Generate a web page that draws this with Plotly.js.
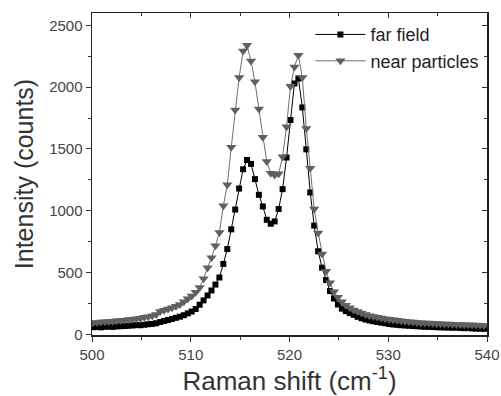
<!DOCTYPE html>
<html>
<head>
<meta charset="utf-8">
<script src="https://cdn.plot.ly/plotly-3.0.1.min.js"></script>
<style>html,body{margin:0;padding:0;background:#fff;}#chart{width:501px;height:396px;}</style>
</head>
<body>
<div id="chart"></div>
<script>
// Raman shift (cm^-1)
const ramanShift = [
  500.1, 500.5, 500.9, 501.3, 501.7, 502.1, 502.5, 502.9, 503.3, 503.7,
  504.1, 504.5, 504.9, 505.3, 505.7, 506.1, 506.5, 506.9, 507.3, 507.7,
  508.1, 508.5, 508.9, 509.3, 509.7, 510.1, 510.5, 510.9, 511.3, 511.7,
  512.1, 512.5, 512.9, 513.3, 513.7, 514.1, 514.5, 514.9, 515.3, 515.7,
  516.1, 516.5, 516.9, 517.3, 517.7, 518.1, 518.5, 518.9, 519.3, 519.7,
  520.1, 520.5, 520.9, 521.3, 521.7, 522.1, 522.5, 522.9, 523.3, 523.7,
  524.1, 524.5, 524.9, 525.3, 525.7, 526.1, 526.5, 526.9, 527.3, 527.7,
  528.1, 528.5, 528.9, 529.3, 529.7, 530.1, 530.5, 530.9, 531.3, 531.7,
  532.1, 532.5, 532.9, 533.3, 533.7, 534.1, 534.5, 534.9, 535.3, 535.7,
  536.1, 536.5, 536.9, 537.3, 537.7, 538.1, 538.5, 538.9, 539.3, 539.7
];
// far field intensity (counts)
const farField = [
  58, 60, 57, 62, 63, 61, 65, 66, 68, 70,
  72, 75, 74, 78, 82, 85, 90, 100, 108, 116,
  125, 134, 143, 155, 170, 185, 205, 240, 275, 315,
  355, 403, 460, 570, 690, 850, 1010, 1180, 1336, 1411,
  1379, 1256, 1129, 1035, 927, 895, 914, 1014, 1175, 1431,
  1734, 2030, 2070, 1836, 1497, 1148, 880, 672, 540, 440,
  350, 290, 242, 208, 188, 172, 158, 142, 130, 120,
  112, 106, 100, 95, 90, 84, 80, 77, 74, 72,
  70, 68, 66, 64, 62, 61, 60, 58, 57, 56,
  55, 54, 55, 52, 50, 52, 48, 47, 46, 45
];
// near particles intensity (counts)
const nearParticles = [
  95, 97, 100, 102, 105, 107, 110, 112, 115, 120,
  122, 126, 130, 138, 143, 150, 160, 185, 196, 205,
  215, 228, 242, 265, 288, 310, 340, 380, 450, 540,
  620, 718, 825, 1040, 1210, 1514, 1815, 2078, 2293, 2339,
  2212, 2043, 1823, 1594, 1398, 1304, 1290, 1300, 1438, 1680,
  2008, 2164, 2258, 2078, 1666, 1344, 1014, 820, 650, 511,
  417, 345, 300, 265, 235, 215, 198, 185, 172, 160,
  150, 145, 138, 132, 127, 122, 118, 114, 110, 106,
  103, 100, 97, 95, 93, 92, 90, 88, 86, 85,
  84, 82, 80, 80, 78, 77, 76, 75, 74, 72
];
const seriesNames = ["far field", "near particles"];

const FONT = "Liberation Sans, Arial, sans-serif";

const traces = [
  {
    x: ramanShift, y: farField, name: seriesNames[0], type: "scatter", mode: "lines+markers",
    line: {color: "#000000", width: 1},
    marker: {symbol: "square", size: 6, color: "#000000"}
  },
  {
    x: ramanShift, y: nearParticles, name: seriesNames[1], type: "scatter", mode: "lines+markers",
    line: {color: "#707070", width: 1},
    marker: {symbol: "triangle-down", size: 9, color: "#606060"}
  },
  {x: [], y: [], xaxis: "x2", yaxis: "y2", showlegend: false, hoverinfo: "skip"}
];

const xRange = [500, 540];
const yRange = [-5, 2600];

const layout = {
  width: 501, height: 396,
  margin: {l: 92, r: 14, t: 13, b: 61},
  paper_bgcolor: "#ffffff", plot_bgcolor: "#ffffff",
  font: {family: FONT, color: "#333333"},
  showlegend: true,
  legend: {x: 0.553, y: 0.99, xanchor: "left", yanchor: "top", bgcolor: "rgba(0,0,0,0)",
           itemwidth: 50,
           font: {family: FONT, size: 18, color: "#222222"}, tracegroupgap: 0},
  xaxis: {
    range: xRange, dtick: 10, tick0: 500, ticks: "outside", ticklen: 5, tickwidth: 1, tickcolor: "#333",
    minor: {dtick: 5, ticks: "outside", ticklen: 3, tickcolor: "#333"},
    showline: true, linecolor: "#222", linewidth: 1.5, showgrid: false, zeroline: false,
    tickfont: {family: FONT, size: 15, color: "#444"},
    title: {text: "Raman shift (cm<sup>-1</sup>)", font: {family: FONT, size: 26, color: "#333"}, standoff: 16}
  },
  yaxis: {
    range: yRange, dtick: 500, tick0: 0, ticks: "outside", ticklen: 5, tickwidth: 1, tickcolor: "#333",
    minor: {dtick: 250, ticks: "outside", ticklen: 3, tickcolor: "#333"},
    showline: true, linecolor: "#222", linewidth: 1.5, showgrid: false, zeroline: false,
    tickfont: {family: FONT, size: 15, color: "#444"},
    title: {text: "Intensity (counts)", font: {family: FONT, size: 25, color: "#333"}, standoff: 8}
  },
  xaxis2: {
    overlaying: "x", side: "top", range: xRange, dtick: 10, tick0: 500,
    ticks: "inside", ticklen: 5, tickcolor: "#333",
    minor: {dtick: 5, ticks: "inside", ticklen: 3, tickcolor: "#333"},
    showline: true, linecolor: "#222", linewidth: 1.5, showgrid: false, zeroline: false, showticklabels: false
  },
  yaxis2: {
    overlaying: "y", side: "right", range: yRange, dtick: 500, tick0: 0,
    ticks: "inside", ticklen: 5, tickcolor: "#333",
    minor: {dtick: 250, ticks: "inside", ticklen: 3, tickcolor: "#333"},
    showline: true, linecolor: "#222", linewidth: 1.5, showgrid: false, zeroline: false, showticklabels: false
  }
};

Plotly.newPlot("chart", traces, layout, {staticPlot: true, displayModeBar: false});
</script>
</body>
</html>
